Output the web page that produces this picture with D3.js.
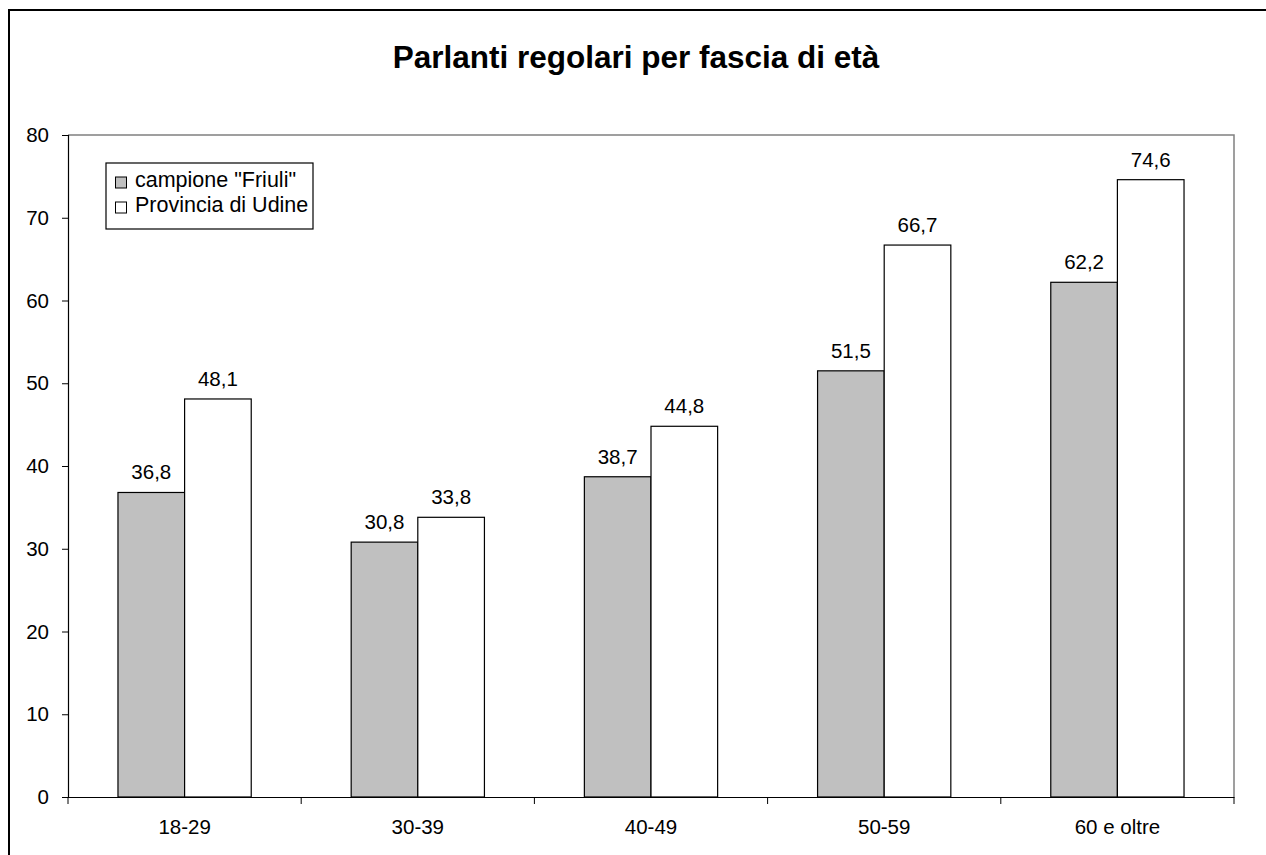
<!DOCTYPE html>
<html>
<head>
<meta charset="utf-8">
<script src="https://cdn.jsdelivr.net/npm/d3@7"></script>
<style>
  body { margin: 0; background: #fff; }
  svg text { font-family: "Liberation Sans", Arial, sans-serif; fill: #000; }
</style>
</head>
<body>
<div id="app"></div>
<script>
const categories = ["18-29", "30-39", "40-49", "50-59", "60 e oltre"];
const seriesNames = ['campione "Friuli"', "Provincia di Udine"];
const friuli = [36.8, 30.8, 38.7, 51.5, 62.2];
const udine = [48.1, 33.8, 44.8, 66.7, 74.6];
const yTicks = [0, 10, 20, 30, 40, 50, 60, 70, 80];
const colors = ["#c0c0c0", "#ffffff"];

const w = 1266, h = 855;
const plot = { left: 68, right: 1234, top: 135, bottom: 797 };
const fontSize = "20.5px";

const svg = d3.select("#app").append("svg").attr("width", w).attr("height", h);

// outer chart frame (runs off the page on the right and bottom)
svg.append("rect")
  .attr("x", 9).attr("y", 10)
  .attr("width", 1300).attr("height", 900)
  .attr("fill", "none").attr("stroke", "#000").attr("stroke-width", 2);

// title
svg.append("text")
  .attr("x", 636).attr("y", 68)
  .attr("text-anchor", "middle")
  .style("font-size", "31.5px").style("font-weight", "bold")
  .text("Parlanti regolari per fascia di età");

const x = d3.scaleBand().domain(categories).range([plot.left, plot.right]);
const y = d3.scaleLinear().domain([0, 80]).range([plot.bottom, plot.top]);
const barW = x.bandwidth() / 3.5;

// plot area border (gray top/right)
svg.append("path")
  .attr("d", `M${plot.left},${plot.top}H${plot.right}V${plot.bottom}`)
  .attr("fill", "none").attr("stroke", "#808080").attr("stroke-width", 1.5);

// bars
const series = [friuli, udine];
series.forEach((vals, s) => {
  svg.append("g").selectAll("rect")
    .data(vals)
    .enter()
    .append("rect")
    .attr("x", (d, i) => x(categories[i]) + x.bandwidth() / 2 - barW + s * barW)
    .attr("y", (d) => y(d))
    .attr("width", barW)
    .attr("height", (d) => y(0) - y(d))
    .attr("fill", colors[s])
    .attr("stroke", "#000").attr("stroke-width", 1.2);

  svg.append("g").selectAll("text")
    .data(vals)
    .enter()
    .append("text")
    .attr("x", (d, i) => x(categories[i]) + x.bandwidth() / 2 - barW / 2 + s * barW)
    .attr("y", (d) => y(d) - 13)
    .attr("text-anchor", "middle")
    .style("font-size", fontSize)
    .text((d) => d.toFixed(1).replace(".", ","));
});

// y axis
const yAxis = d3.axisLeft(y).tickValues(yTicks).tickSizeOuter(0).tickSize(6).tickPadding(13);
const gy = svg.append("g").attr("transform", `translate(${plot.left},0)`).call(yAxis);
gy.selectAll("text").style("font-size", fontSize);

// x axis
const xAxis = d3.axisBottom(x).tickSize(0).tickSizeOuter(0).tickPadding(22);
const gx = svg.append("g").attr("transform", `translate(0,${plot.bottom})`).call(xAxis);
gx.selectAll("text").style("font-size", fontSize);
gx.selectAll(".tick line").remove();
gx.selectAll(".cat-tick")
  .data(categories.concat([null]))
  .enter()
  .append("line")
  .attr("x1", (d, i) => plot.left + i * x.step())
  .attr("x2", (d, i) => plot.left + i * x.step())
  .attr("y1", 0).attr("y2", 7)
  .attr("stroke", "#000");
svg.selectAll(".domain").attr("stroke", "#000").attr("stroke-width", 1.2);

// legend
const lg = svg.append("g").attr("transform", "translate(106,163)");
lg.append("rect").attr("width", 207).attr("height", 66)
  .attr("fill", "#fff").attr("stroke", "#000").attr("stroke-width", 1.2);
seriesNames.forEach((name, i) => {
  lg.append("rect")
    .attr("x", 9.5).attr("y", 14 + i * 25)
    .attr("width", 11).attr("height", 11)
    .attr("fill", colors[i]).attr("stroke", "#000");
  lg.append("text")
    .attr("x", 29).attr("y", 24 + i * 25)
    .style("font-size", "21.5px")
    .text(name);
});
</script>
</body>
</html>
